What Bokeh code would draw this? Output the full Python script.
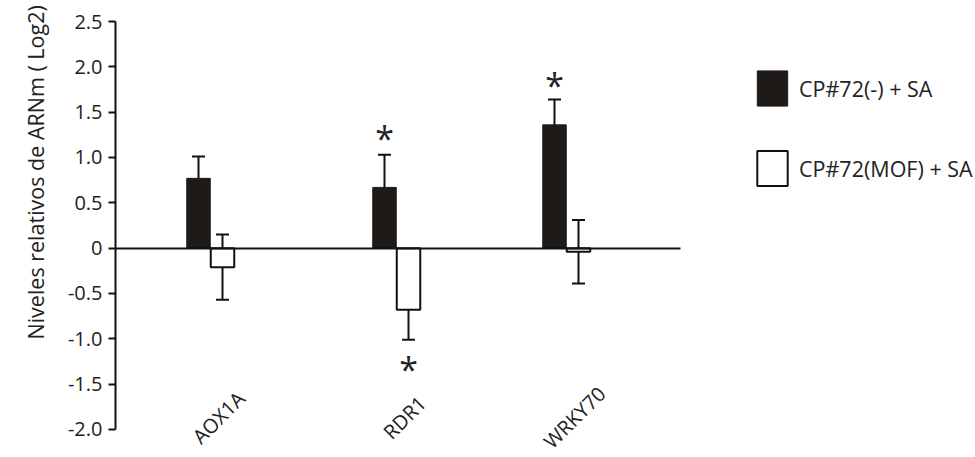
from bokeh.plotting import figure
from bokeh.models import (ColumnDataSource, Whisker, TeeHead, FixedTicker, LinearAxis,
                          PrintfTickFormatter, Legend, LegendItem, Title)
from bokeh.core.properties import value
from bokeh.embed import file_html
from bokeh.resources import INLINE

# ---- data ----
genes = ["AOX1A", "RDR1", "WRKY70"]
gene_x = [0.95, 2.81, 4.51]          # group centres on the numeric x scale
series_names = ["CP#72(-) + SA", "CP#72(MOF) + SA"]
mean_neg = [0.77, 0.67, 1.36]        # CP#72(-) + SA
err_neg = [0.24, 0.36, 0.28]
mean_mof = [-0.21, -0.68, -0.04]     # CP#72(MOF) + SA
err_mof = [0.36, 0.33, 0.35]
sig_x = [2.81, 2.81, 4.51]           # significance asterisks
sig_dodge = [-0.12, 0.12, -0.12]
sig_y = [1.33, -1.22, 1.91]
y_ticks = [-2.0, -1.5, -1.0, -0.5, 0.0, 0.5, 1.0, 1.5, 2.0, 2.5]
y_title = "Niveles relativos de ARNm ( Log2)"

FONT = "Open Sans"
DODGE = 0.12
BAR_W = 0.235

x_neg = [g - DODGE for g in gene_x]
x_mof = [g + DODGE for g in gene_x]

src_neg = ColumnDataSource(dict(x=x_neg, top=mean_neg,
                                upper=[m + e for m, e in zip(mean_neg, err_neg)],
                                lower=[m - e for m, e in zip(mean_neg, err_neg)]))
src_mof = ColumnDataSource(dict(x=x_mof, top=mean_mof,
                                upper=[m + e for m, e in zip(mean_mof, err_mof)],
                                lower=[m - e for m, e in zip(mean_mof, err_mof)]))

p = figure(width=975, height=457, output_backend="svg", toolbar_location=None,
           x_range=(0, 8.60), y_range=(-2.309, 2.6765), x_axis_location=None,
           min_border_left=115, min_border_right=0, min_border_top=5,
           min_border_bottom=0)
p.outline_line_color = None
p.grid.visible = False
p.background_fill_color = "white"
p.border_fill_color = "white"

r_neg = p.vbar(x="x", top="top", bottom=0, width=BAR_W, source=src_neg,
               fill_color="#1e1a18", line_color="#1e1a18", line_width=1)
r_mof = p.vbar(x="x", top="top", bottom=0, width=BAR_W, source=src_mof,
               fill_color="white", line_color="#111111", line_width=2)

# x axis drawn as the zero line
xax = LinearAxis(fixed_location=0, bounds=(0, 5.65), axis_line_width=2,
                 axis_line_color="#111111", major_tick_line_color=None,
                 minor_tick_line_color=None, major_label_text_font_size="0px",
                 major_label_text_alpha=0)
p.add_layout(xax, "below")

for src in (src_neg, src_mof):
    w = Whisker(base="x", upper="upper", lower="lower", source=src, dimension="height",
                line_color="#111111", line_width=2,
                upper_head=TeeHead(size=13, line_color="#111111", line_width=2),
                lower_head=TeeHead(size=13, line_color="#111111", line_width=2))
    p.add_layout(w)

# significance asterisks
p.text(x=[sx + d for sx, d in zip(sig_x, sig_dodge)], y=sig_y, text=["*"] * len(sig_y),
       text_font=value(FONT), text_font_size="34px", text_align="center",
       text_baseline="middle", y_offset=10, text_color="#222222")

# category labels (rotated), inside the plotting area
p.text(x=gene_x, y=[-2.0] * len(genes), text=genes, angle=0.785398,
       text_font=value(FONT), text_font_size="20px", text_align="center",
       text_baseline="middle", x_offset=8, y_offset=-12, text_color="#222222")

# y axis
ax = p.yaxis[0]
ax.bounds = (-2.0, 2.5)
ax.ticker = FixedTicker(ticks=y_ticks)
ax.formatter = PrintfTickFormatter(format="%.1f")
ax.major_label_overrides = {0: "0"}
ax.major_label_text_font = FONT
ax.major_label_text_font_size = "20px"
ax.major_label_text_color = "#222222"
ax.axis_line_width = 2
ax.axis_line_color = "#111111"
ax.major_tick_line_width = 2
ax.major_tick_line_color = "#111111"
ax.major_tick_out = 7
ax.major_tick_in = 0
ax.minor_tick_line_color = None
ax.major_label_standoff = 6

ytitle = Title(text=y_title, align="left", offset=118,
               text_font=FONT, text_font_size="21.5px", text_font_style="normal",
               text_color="#222222", standoff=30)
p.add_layout(ytitle, "left")

legend = Legend(items=[LegendItem(label=series_names[0], renderers=[r_neg]),
                       LegendItem(label=series_names[1], renderers=[r_mof])],
                location=(638, 267), glyph_width=38, glyph_height=44, spacing=36,
                label_standoff=8, label_text_font=FONT, label_text_font_size="21.5px",
                label_text_color="#222222", border_line_color=None,
                background_fill_alpha=0, padding=0, margin=0)
p.add_layout(legend, "center")

open("out.html", "w").write(file_html(p, INLINE))
